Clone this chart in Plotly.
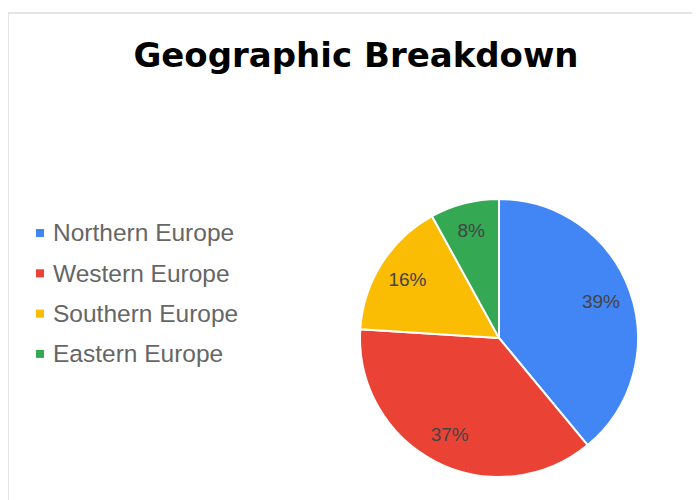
import plotly.graph_objects as go

# ---- data ----
regions = ["Northern Europe", "Western Europe", "Southern Europe", "Eastern Europe"]
shares = [39, 37, 16, 8]
colors = ["#4285F4", "#EA4335", "#FBBC04", "#34A853"]
title_text = "Geographic Breakdown"

W, H = 700, 500
OFF = 8  # page body margin offset


def px_x(x):
    return (x - OFF) / W


def px_y(y):
    return 1 - (y - OFF) / H


# pie placement (window pixels)
cx, cy, R = 499, 338, 139
domain = dict(x=[px_x(cx - R), px_x(cx + R)], y=[px_y(cy + R), px_y(cy - R)])

fig = go.Figure()

# filled pie (no text)
fig.add_trace(go.Pie(
    labels=regions, values=shares, sort=False, direction="clockwise", rotation=0,
    marker=dict(colors=colors, line=dict(color="white", width=2)),
    textinfo="none", showlegend=False, domain=domain, hoverinfo="label+percent",
))

# transparent ring overlay carrying the percentage labels at ~0.78R
fig.add_trace(go.Pie(
    labels=regions, values=shares, sort=False, direction="clockwise", rotation=0,
    hole=0.56,
    marker=dict(colors=["rgba(0,0,0,0)"] * len(regions), line=dict(width=0)),
    textinfo="percent", texttemplate="%{percent:.0%}", textposition="inside",
    insidetextorientation="horizontal",
    insidetextfont=dict(family="Liberation Sans, Arial", size=19, color="#444444"),
    showlegend=False, domain=domain, hoverinfo="skip",
))

shapes = [
    # chart frame
    dict(type="rect", xref="paper", yref="paper",
         x0=px_x(8), x1=px_x(730), y0=px_y(530), y1=px_y(13),
         line=dict(color="#dcdcdc", width=1.5), fillcolor="rgba(0,0,0,0)", layer="below"),
]
annotations = []
leg_x, leg_y0, leg_dy, sq = 40, 233, 40.3, 8
for i, (name, col) in enumerate(zip(regions, colors)):
    yc = leg_y0 + i * leg_dy
    shapes.append(dict(type="rect", xref="paper", yref="paper",
                       x0=px_x(leg_x - sq / 2), x1=px_x(leg_x + sq / 2),
                       y0=px_y(yc + sq / 2), y1=px_y(yc - sq / 2),
                       fillcolor=col, line=dict(width=0)))
    annotations.append(dict(xref="paper", yref="paper", x=px_x(51), y=px_y(yc),
                            xanchor="left", yanchor="middle", showarrow=False,
                            text=name,
                            font=dict(family="Liberation Sans, Arial", size=24.5, color="#666666")))

fig.update_layout(
    width=W, height=H,
    margin=dict(l=0, r=0, t=0, b=0),
    paper_bgcolor="white", plot_bgcolor="white",
    title=dict(text="<b>" + title_text + "</b>", x=px_x(356), y=px_y(55),
               xanchor="center", yanchor="middle",
               font=dict(family="DejaVu Sans", size=34, color="#000000")),
    shapes=shapes, annotations=annotations,
    showlegend=False,
)

fig.write_html("out.html")
